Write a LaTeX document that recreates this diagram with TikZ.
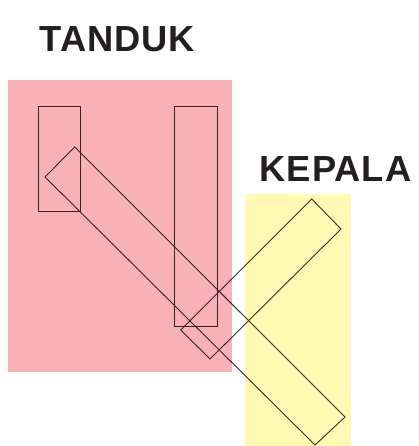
\documentclass[tikz,border=0pt]{standalone}
\usepackage{fontspec}
\setmainfont{Liberation Sans}
\newfontfamily\labelfont[LetterSpace=2.8]{Liberation Sans}
\definecolor{pinkfill}{HTML}{F8B1B6}
\definecolor{yellowfill}{HTML}{FFF9B3}
\definecolor{inkline}{HTML}{3A3033}
\definecolor{labeltext}{HTML}{231F20}
\begin{document}
\begin{tikzpicture}[x=1pt,y=-1pt,
  outline/.style={draw=inkline,line width=0.9pt,line join=miter},
  zone/.style={blend mode=multiply},
  title/.style={font=\labelfont\fontsize{36.3}{40}\selectfont\bfseries,text=labeltext,anchor=base west,inner sep=0pt}]
\useasboundingbox (0,0) rectangle (418,446);
% outlines
\draw[outline] (38,106) rectangle (80,211);
\draw[outline] (174,106) rectangle (217,326);
\draw[outline] (74.7,147) -- (345,417) -- (315,445) -- (45,177) -- cycle;
\draw[outline] (180.7,330) -- (311.7,199) -- (341,229) -- (210,359) -- cycle;
% coloured zones
\begin{scope}[zone]
\fill[pinkfill] (8,80) rectangle (232,372);
\fill[yellowfill] (245,194) rectangle (351,446);
\end{scope}
\node[title] (tanduk) at (39.3,52) {TANDUK};
\node[title] (kepala) at (259.5,181.7) {KEPALA};
\end{tikzpicture}
\end{document}
